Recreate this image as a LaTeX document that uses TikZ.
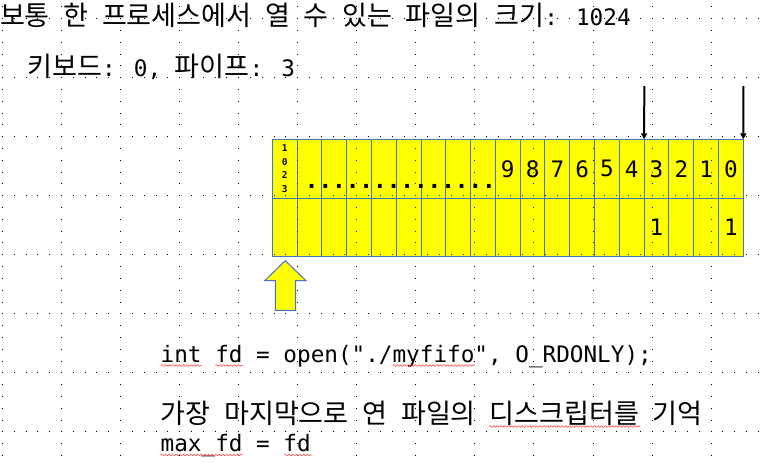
\documentclass[tikz,border=0pt]{standalone}
\usepackage{fontspec}
\setmainfont{DejaVu Sans Mono}
\newfontfamily\monof{DejaVu Sans Mono}
\newfontfamily\krf{Noto Sans CJK KR}
\usetikzlibrary{arrows.meta,decorations.pathmorphing}
\definecolor{cellblue}{HTML}{4472C4}
\definecolor{cellyellow}{HTML}{FFFF00}
\newcommand\K[1]{{\krf\fontsize{27.1}{28}\selectfont #1}}
\newcommand\gridpts[1]{%
  \foreach \r in {0,...,7}{\foreach \j in {0,...,64}{%
    \fill[#1] ({2.5+11.81*\j-0.5},{18.6+59.05*\r-0.5}) rectangle +(1,1);}}%
  \foreach \c in {0,...,12}{\foreach \j in {0,...,38}{%
    \fill[#1] ({2.5+59.05*\c-0.5},{6.79+11.81*\j-0.5}) rectangle +(1,1);}}%
}
\tikzset{
  txt/.style={anchor=base west, inner sep=0pt, outer sep=0pt,
    font=\monof\fontsize{22.66}{28}\selectfont},
  cell/.style={draw=cellblue, fill=cellyellow, line width=1pt,
    minimum width=24.79pt, minimum height=59pt, inner sep=0pt, outer sep=0pt,
    font=\monof\fontsize{22.66}{28}\selectfont},
  cellb/.style={cell, minimum height=57.7pt},
  ptr/.style={line width=2pt, -{Triangle[length=6pt,width=6pt]}},
  blockarrow/.style={draw=cellblue, fill=cellyellow, line width=1pt, line join=miter},
  squig/.style={draw=red!70, line width=0.6pt, decorate,
    decoration={snake, segment length=3.6pt, amplitude=0.8pt}},
}
\begin{document}
\begin{tikzpicture}[x=1pt,y=-1pt]
\useasboundingbox (0,0) rectangle (761,463);
\fill[white] (0,0) rectangle (761,463);
\gridpts{black}

% table, top row
\node[cell, align=center, font=\monof\bfseries\fontsize{9.4}{13.6}\selectfont]
  (c0) at ({272.3+24.79*0.5},168.8) {1\\0\\2\\3};
\foreach \i in {1,...,8}{
  \node[cell] (c\i) at ({272.3+24.79*(\i+0.5)},168.8) {};
}
\foreach \i in {9,...,18}{
  \pgfmathtruncatemacro\d{18-\i}
  \node[cell] (c\i) at ({272.3+24.79*(\i+0.5)},168.8) {\d};
}
% bottom row
\foreach \i in {0,...,14,16,17}{
  \node[cellb] (d\i) at ({272.3+24.79*(\i+0.5)},227.15) {};
}
\node[cellb] (d15) at ({272.3+24.79*15.5},227.15) {1};
\node[cellb] (d18) at ({272.3+24.79*18.5},227.15) {1};

% grid shows through the table in blue
\begin{scope}
  \clip (c0.north west) rectangle (d18.south east);
  \gridpts{blue}
\end{scope}

\node[txt, font=\monof\bfseries\fontsize{22.66}{28}\selectfont] (dots) at (304.9,188) {..............};

% pointers
\coordinate (t1) at (644.3,86);
\coordinate (t2) at (743.3,86);
\draw[ptr] (t1) -- (c15.north west);
\draw[ptr] (t2) -- (c18.north east);

% yellow block arrow
\draw[blockarrow] (285.3,260.7) -- (306,280.7) -- (295.7,280.7) -- (295.7,310.3)
  -- (275.3,310.3) -- (275.3,280.7) -- (264.7,280.7) -- cycle;

% texts
\node[txt] (title) at (0,25)
  {\K{보통} \K{한} \K{프로세스에서} \K{열} \K{수} \K{있는} \K{파일의} \K{크기}: 1024};
\node[txt] (kb) at (27.3,76) {\K{키보드}: 0, \K{파이프}: 3};
\node[txt] (code) at (160.7,362.3) {int fd = open("./myfifo", O\_RDONLY);};
\node[txt] (note) at (160.7,423.5)
  {\K{가장} \K{마지막으로} \K{연} \K{파일의} \K{디스크립터를} \K{기억}};
\node[txt] (maxfd) at (160.7,451.7) {max\_fd = fd};

% spell-check underlines
\draw[squig] (160.7,365.5) -- (201.6,365.5);
\draw[squig] (215.3,365.5) -- (242.6,365.5);
\draw[squig] (392.6,365.5) -- (474.5,365.5);
\draw[squig] (489,426.5) -- (640,426.5);
\draw[squig] (160.7,455) -- (242.5,455);
\draw[squig] (284.5,455) -- (311.5,455);
\end{tikzpicture}
\end{document}
